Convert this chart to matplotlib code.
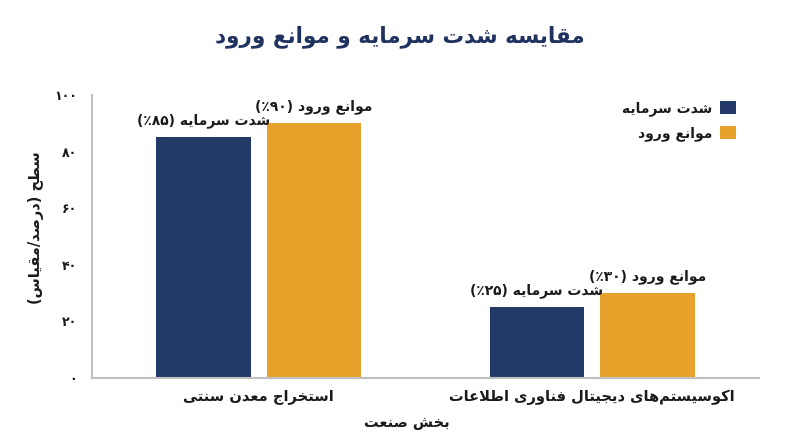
import matplotlib
matplotlib.use("Agg")
import matplotlib.pyplot as plt
import numpy as np

# ---------------- data ----------------
categories = ["استخراج معدن سنتی", "اکوسیستم‌های دیجیتال فناوری اطلاعات"]
series_names = ["شدت سرمایه", "موانع ورود"]
capital_intensity = [85, 25]
entry_barriers = [90, 30]
capital_labels = ["شدت سرمایه (٪۸۵)", "شدت سرمایه (٪۲۵)"]
barrier_labels = ["موانع ورود (٪۹۰)", "موانع ورود (٪۳۰)"]
y_ticks = [0, 20, 40, 60, 80, 100]
y_tick_labels = ["۰", "۲۰", "۴۰", "۶۰", "۸۰", "۱۰۰"]
title_text = "مقایسه شدت سرمایه و موانع ورود"
x_label_text = "بخش صنعت"
y_label_text = "سطح (درصد/مقیاس)"

# ---------------- Arabic/Persian shaping ----------------
FORMS = {
    'ا': ('\uFE8D', '\uFE8E'), 'آ': ('\uFE81', '\uFE82'),
    'أ': ('\uFE83', '\uFE84'), 'إ': ('\uFE87', '\uFE88'),
    'د': ('\uFEA9', '\uFEAA'), 'ذ': ('\uFEAB', '\uFEAC'),
    'ر': ('\uFEAD', '\uFEAE'), 'ز': ('\uFEAF', '\uFEB0'),
    'ژ': ('\uFB8A', '\uFB8B'), 'و': ('\uFEED', '\uFEEE'),
    'ب': ('\uFE8F', '\uFE90', '\uFE91', '\uFE92'),
    'پ': ('\uFB56', '\uFB57', '\uFB58', '\uFB59'),
    'ت': ('\uFE95', '\uFE96', '\uFE97', '\uFE98'),
    'ث': ('\uFE99', '\uFE9A', '\uFE9B', '\uFE9C'),
    'ج': ('\uFE9D', '\uFE9E', '\uFE9F', '\uFEA0'),
    'چ': ('\uFB7A', '\uFB7B', '\uFB7C', '\uFB7D'),
    'ح': ('\uFEA1', '\uFEA2', '\uFEA3', '\uFEA4'),
    'خ': ('\uFEA5', '\uFEA6', '\uFEA7', '\uFEA8'),
    'س': ('\uFEB1', '\uFEB2', '\uFEB3', '\uFEB4'),
    'ش': ('\uFEB5', '\uFEB6', '\uFEB7', '\uFEB8'),
    'ص': ('\uFEB9', '\uFEBA', '\uFEBB', '\uFEBC'),
    'ض': ('\uFEBD', '\uFEBE', '\uFEBF', '\uFEC0'),
    'ط': ('\uFEC1', '\uFEC2', '\uFEC3', '\uFEC4'),
    'ظ': ('\uFEC5', '\uFEC6', '\uFEC7', '\uFEC8'),
    'ع': ('\uFEC9', '\uFECA', '\uFECB', '\uFECC'),
    'غ': ('\uFECD', '\uFECE', '\uFECF', '\uFED0'),
    'ف': ('\uFED1', '\uFED2', '\uFED3', '\uFED4'),
    'ق': ('\uFED5', '\uFED6', '\uFED7', '\uFED8'),
    'ک': ('\uFB8E', '\uFB8F', '\uFB90', '\uFB91'),
    'گ': ('\uFB92', '\uFB93', '\uFB94', '\uFB95'),
    'ل': ('\uFEDD', '\uFEDE', '\uFEDF', '\uFEE0'),
    'م': ('\uFEE1', '\uFEE2', '\uFEE3', '\uFEE4'),
    'ن': ('\uFEE5', '\uFEE6', '\uFEE7', '\uFEE8'),
    'ه': ('\uFEE9', '\uFEEA', '\uFEEB', '\uFEEC'),
    'ی': ('\uFBFC', '\uFBFD', '\uFBFE', '\uFBFF'),
    'ي': ('\uFEF1', '\uFEF2', '\uFEF3', '\uFEF4'),
}
DIGITS = set('0123456789۰۱۲۳۴۵۶۷۸۹٪%.')
MIRROR = {'(': ')', ')': '(', '[': ']', ']': '['}


def dual(c):
    return c in FORMS and len(FORMS[c]) == 4


def shape(text):
    out = []
    n = len(text)
    i = 0
    while i < n:
        c = text[i]
        prev = text[i - 1] if i > 0 else None
        joins_prev = dual(prev) if prev is not None else False
        if c == 'ل' and i + 1 < n and text[i + 1] == 'ا':
            out.append('\uFEFC' if joins_prev else '\uFEFB')
            i += 2
            continue
        if c in FORMS:
            nxt = text[i + 1] if i + 1 < n else None
            joins_next = dual(c) and nxt in FORMS
            f = FORMS[c]
            if joins_prev and joins_next:
                g = f[3]
            elif joins_prev:
                g = f[1]
            elif joins_next:
                g = f[2]
            else:
                g = f[0]
            out.append(g)
        elif c == '\u200c':
            pass
        else:
            out.append(c)
        i += 1
    tokens = []
    for ch in out:
        if ch in DIGITS and tokens and tokens[-1][0] in DIGITS:
            tokens[-1] += ch
        else:
            tokens.append(ch)
    tokens.reverse()
    return ''.join(MIRROR.get(t, t) for t in tokens)


# ---------------- plot ----------------
plt.rcParams['font.family'] = ['DejaVu Sans']
NAVY = '#233a69'
ORANGE = '#e8a22c'
TXT = '#1a1a1a'

fig = plt.figure(figsize=(8.0, 4.47), dpi=100)
ax = fig.add_axes([92 / 800, (447 - 378) / 447, (759 - 92) / 800, (378 - 95) / 447])

x = np.arange(len(categories))
w = 0.283
off = 0.166
b1 = ax.bar(x - off, capital_intensity, w, color=NAVY, label=shape(series_names[0]))
b2 = ax.bar(x + off, entry_barriers, w, color=ORANGE, label=shape(series_names[1]))

for bars, labels in ((b1, capital_labels), (b2, barrier_labels)):
    for rect, lab in zip(bars, labels):
        ax.annotate(shape(lab), (rect.get_x() + rect.get_width() / 2, rect.get_height()),
                    xytext=(0, 6.5), textcoords='offset points', ha='center', va='bottom',
                    fontsize=10, fontweight='bold', color=TXT)

ax.set_xlim(-0.5, 1.5)
ax.set_ylim(0, 100)
ax.set_xticks(x)
ax.set_xticklabels([shape(c) for c in categories], fontsize=10.5, fontweight='bold', color=TXT)
ax.set_yticks(y_ticks)
ax.set_yticklabels(y_tick_labels, fontsize=9, fontweight='bold', color=TXT)
ax.tick_params(axis='both', length=0)
ax.tick_params(axis='y', pad=11)
ax.tick_params(axis='x', pad=8)

for s in ['top', 'right']:
    ax.spines[s].set_visible(False)
for s in ['left', 'bottom']:
    ax.spines[s].set_color('#c0c0c0')
    ax.spines[s].set_linewidth(1.5)

ax.set_xlabel(shape(x_label_text), fontsize=10.5, fontweight='bold', color=TXT)
ax.xaxis.set_label_coords(0.472, -0.13)
ax.set_ylabel(shape(y_label_text), fontsize=10.5, fontweight='bold', color=TXT)
ax.yaxis.set_label_coords(-0.072, 0.53)

fig.text(0.5, (447 - 37) / 447, shape(title_text), ha='center', va='center',
         fontsize=15.5, fontweight='bold', color='#1f3260')

leg = ax.legend(loc='upper right', bbox_to_anchor=(748 / 800, (447 - 88) / 447),
                bbox_transform=fig.transFigure, frameon=False, markerfirst=False,
                handlelength=1.1, handleheight=1.1, handletextpad=0.6, labelspacing=0.75,
                prop={'size': 10, 'weight': 'bold'})
for t in leg.get_texts():
    t.set_color(TXT)

fig.savefig('out.png', dpi=100)
